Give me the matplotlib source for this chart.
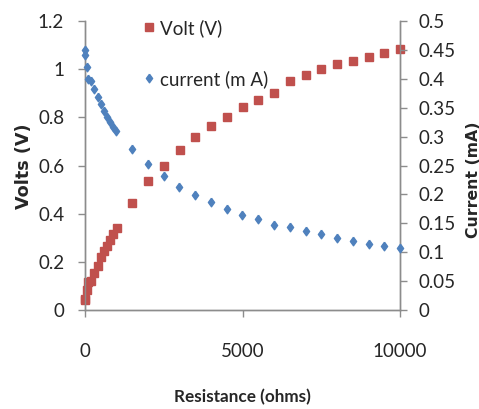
import matplotlib
matplotlib.use("Agg")
import matplotlib.pyplot as plt
from matplotlib.ticker import FuncFormatter

plt.rcParams['font.family'] = ['Lato', 'DejaVu Sans']

# load resistance (ohms)
resistance = [0, 10, 50, 110, 190, 300, 400, 500, 600, 700, 800, 900, 1000,
              1500, 2000, 2500, 3000, 3500, 4000, 4500, 5000, 5500, 6000,
              6500, 7000, 7500, 8000, 8500, 9000, 9500, 10000]
# cell voltage (V)
volts = [0.040, 0.046, 0.083, 0.118, 0.120, 0.152, 0.184, 0.221, 0.246, 0.267,
         0.290, 0.314, 0.339, 0.443, 0.534, 0.599, 0.664, 0.719, 0.763, 0.802,
         0.841, 0.871, 0.900, 0.949, 0.974, 1.001, 1.021, 1.032, 1.051, 1.068,
         1.082]
# current (mA)
current = [0.449, 0.441, 0.421, 0.399, 0.396, 0.382, 0.368, 0.356, 0.345,
           0.334, 0.326, 0.317, 0.310, 0.279, 0.252, 0.231, 0.213, 0.199,
           0.186, 0.174, 0.164, 0.157, 0.147, 0.143, 0.137, 0.131, 0.125,
           0.119, 0.115, 0.111, 0.107]

red = '#C0504D'
blue = '#4F81BD'
axis_col = '#8C8C8C'
txt_col = '#262626'

# slightly tall diamond, like the spreadsheet default
diamond = [(0, 1), (0.72, 0), (0, -1), (-0.72, 0), (0, 1)]

W, H = 479, 409
fig = plt.figure(figsize=(W / 100, H / 100), dpi=100)
ax = fig.add_axes([85 / W, 1 - 310 / H, 315 / W, 289 / H])
ax2 = ax.twinx()

h1, = ax.plot(resistance, volts, ls='none', marker='s', ms=5.2, color=red,
              clip_on=False, zorder=3, label='Volt (V)')
h2, = ax2.plot(resistance, current, ls='none', marker=diamond, ms=6.2,
               color=blue, clip_on=False, zorder=3, label='current (m A)')

ax.set_xlim(0, 10000)
ax.set_ylim(0, 1.2)
ax2.set_ylim(0, 0.5)
ax.set_xticks([0, 5000, 10000])
ax.set_yticks([0, 0.2, 0.4, 0.6, 0.8, 1.0, 1.2])
ax2.set_yticks([i * 0.05 for i in range(11)])
fmt = FuncFormatter(lambda v, p: '%g' % round(v, 2))
ax.yaxis.set_major_formatter(fmt)
ax2.yaxis.set_major_formatter(fmt)

for a in (ax, ax2):
    a.spines['top'].set_visible(False)
    for s in ('left', 'right', 'bottom'):
        a.spines[s].set_color(axis_col)
        a.spines[s].set_linewidth(1.0)
    a.tick_params(colors=axis_col, labelcolor=txt_col, labelsize=13.5,
                  length=5, width=1.0, direction='out')

ax.tick_params(axis='x', pad=19)
ax.tick_params(axis='y', pad=10)
ax2.tick_params(axis='y', pad=8)

# axis titles placed in figure pixels
fig.text(242 / W, 1 - 397.5 / H, 'Resistance (ohms)', ha='center',
         va='center', fontsize=12.3, fontweight='bold', color=txt_col)
fig.text(24 / W, 1 - 166 / H, 'Volts (V)', rotation=90, ha='center',
         va='center', fontsize=12.7, fontweight='bold', color=txt_col,
         family='DejaVu Sans')
fig.text(473 / W, 1 - 180 / H, 'Current (mA)', rotation=90, ha='center',
         va='center', fontsize=11.3, fontweight='bold', color=txt_col,
         family='DejaVu Sans')

leg = ax.legend(handles=[h1, h2], loc='upper left',
                bbox_to_anchor=(0.125, 1.065), frameon=False, fontsize=13.5,
                labelspacing=1.75, handlelength=0.8, handletextpad=0.2,
                labelcolor=txt_col)

fig.savefig('out.png', dpi=100)
